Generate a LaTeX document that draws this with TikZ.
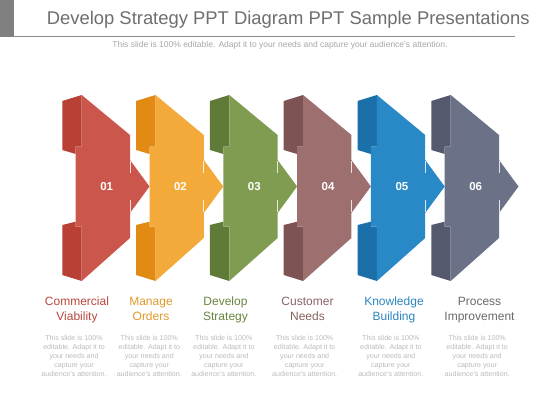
\documentclass[tikz,border=0pt]{standalone}
\usepackage{fontspec}
\setmainfont{Liberation Sans}
\definecolor{fA}{HTML}{CB574C}\definecolor{dA}{HTML}{B84034}
\definecolor{fB}{HTML}{F3AA3A}\definecolor{dB}{HTML}{E18B14}
\definecolor{fC}{HTML}{809C50}\definecolor{dC}{HTML}{607A37}
\definecolor{fD}{HTML}{9D6F6E}\definecolor{dD}{HTML}{7E5353}
\definecolor{fE}{HTML}{2889C6}\definecolor{dE}{HTML}{1B70AA}
\definecolor{fF}{HTML}{6B7288}\definecolor{dF}{HTML}{54596E}
\definecolor{lA}{HTML}{B8473C}\definecolor{lB}{HTML}{E09A2A}
\definecolor{lC}{HTML}{6A8440}\definecolor{lD}{HTML}{8A6262}
\definecolor{lE}{HTML}{2C86BE}\definecolor{lF}{HTML}{6A6A6A}
\definecolor{titlegray}{HTML}{6E6E6E}
\definecolor{blockgray}{HTML}{808080}
\definecolor{rulegray}{HTML}{8C8C8C}
\definecolor{subgray}{HTML}{A8A8A8}
\definecolor{bodygray}{HTML}{BBBBBB}
\tikzset{
  numtext/.style={text=white,font=\bfseries\fontsize{11.5}{13}\selectfont,inner sep=0pt},
  labeltext/.style={align=center,font=\fontsize{12}{15}\selectfont,inner sep=0pt},
  bodytext/.style={align=center,text=bodygray,font=\fontsize{7.1}{8.8}\selectfont,inner sep=0pt},
  hilite/.style={draw=white,line width=0.8pt,opacity=0.8}
}
\begin{document}
\begin{tikzpicture}[x=1pt,y=-1pt]
\useasboundingbox (0,0) rectangle (560,420);
\fill[white] (0,0) rectangle (560,420);
% header
\fill[blockgray] (0,0) rectangle (14,36.7);
\coordinate (r1) at (14,36.7);
\coordinate (r2) at (515,36.7);
\draw[rulegray,line width=0.8pt] (r1) -- (r2);
\node[anchor=base west,inner sep=0pt,text=titlegray,font=\fontsize{18.4}{22}\selectfont] (title) at (46.7,25) {Develop Strategy PPT Diagram PPT Sample Presentations};
\node[anchor=base,inner sep=0pt,text=subgray,font=\fontsize{8.5}{10}\selectfont] (sub) at (280,47.5) {This slide is 100\% editable. Adapt it to your needs and capture your audience's attention.};
% shapes
\foreach \i/\fc/\dc in {0/fA/dA,1/fB/dB,2/fC/dC,3/fD/dD,4/fE/dE,5/fF/dF}{
  \begin{scope}[xshift=73.8*\i pt]
    \fill[\dc] (62.3,101) -- (81.7,95) -- (81.7,146.7) -- (75.7,146.7) -- (75.7,154) -- (62.3,150) -- cycle;
    \fill[\dc] (62.3,225) -- (75.7,221.7) -- (75.7,226.7) -- (81.7,226.7) -- (81.7,281) -- (62.3,275) -- cycle;
    \fill[\fc] (81.7,95) -- (130,135) -- (130,160) -- (149.5,186.5) -- (130,213) -- (130,238) -- (81.7,281)
      -- (81.7,226.7) -- (75.7,226.7) -- (75.7,146.7) -- (81.7,146.7) -- cycle;
    \draw[hilite] (130,161) -- (130,173);
    \draw[hilite] (130,200) -- (130,212);
  \end{scope}
}
\foreach \i in {1,...,6}{
  \node[numtext] (n\i) at ({106.7+73.8*(\i-1)},186.5) {0\i};
}
% labels
\foreach \i/\x/\c/\t in {1/77/lA/{Commercial\\Viability},2/151/lB/{Manage\\Orders},3/225.5/lC/{Develop\\Strategy},4/307.5/lD/{Customer\\Needs},5/394/lE/{Knowledge\\Building},6/479.5/lF/{Process\\Improvement}}{
  \node[labeltext,text=\c,anchor=center] (l\i) at (\x,309.5) {\strut\t\strut};
}
\foreach \i/\x in {1/74,2/149.3,3/223.8,4/304.7,5/390.8,6/477.2}{
  \node[bodytext,anchor=center] (b\i) at (\x,356) {This slide is 100\%\\editable. Adapt it to\\your needs and\\capture your\\audience's attention.};
}
\end{tikzpicture}
\end{document}
